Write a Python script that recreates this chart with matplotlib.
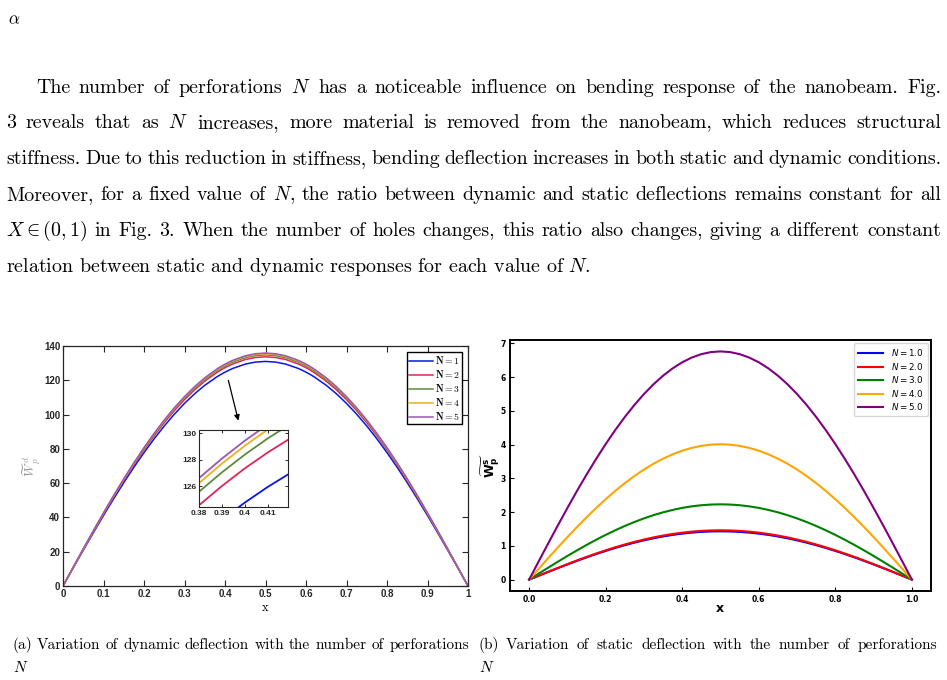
import numpy as np
import matplotlib
matplotlib.use('Agg')
from matplotlib import pyplot as plt
from matplotlib.font_manager import FontProperties

W, H = 947, 680

# ---- data ----
# (a) dynamic deflection, x grid is denser around the zoomed window
x_dyn = [0, 0.025, 0.05, 0.075, 0.10, 0.125, 0.15, 0.175, 0.20, 0.225, 0.25, 0.275, 0.30, 0.325, 0.35,
         0.38, 0.39, 0.40, 0.41, 0.42, 0.45, 0.475, 0.50, 0.525, 0.55, 0.58, 0.59, 0.60, 0.61, 0.62,
         0.65, 0.675, 0.70, 0.725, 0.75, 0.775, 0.80, 0.825, 0.85, 0.875, 0.90, 0.925, 0.95, 0.975, 1.0]
dyn_N1 = [0, 10.47, 20.86, 31.10, 41.12, 50.86, 60.26, 69.26, 77.80, 85.84, 93.34, 100.24, 106.52, 112.14, 117.06,
          122.03, 123.45, 124.75, 125.93, 126.99, 129.43, 130.61, 131.0, 130.61, 129.43, 126.99, 125.93, 124.75, 123.45, 122.03,
          117.06, 112.14, 106.52, 100.24, 93.34, 85.84, 77.80, 69.26, 60.26, 50.86, 41.12, 31.10, 20.86, 10.47, 0]
dyn_N2 = [0, 10.68, 21.29, 31.74, 41.97, 51.91, 61.50, 70.69, 79.41, 87.61, 95.26, 102.31, 108.71, 114.45, 119.48,
          124.55, 126.00, 127.33, 128.53, 129.61, 132.10, 133.30, 133.7, 133.30, 132.10, 129.61, 128.53, 127.33, 126.00, 124.55,
          119.48, 114.45, 108.71, 102.31, 95.26, 87.61, 79.41, 70.69, 61.50, 51.91, 41.97, 31.74, 21.29, 10.68, 0]
dyn_N3 = [0, 10.77, 21.46, 32.00, 42.32, 52.34, 62.01, 71.27, 80.06, 88.33, 96.05, 103.15, 109.61, 115.39, 120.46,
          125.57, 127.03, 128.37, 129.59, 130.68, 133.19, 134.40, 134.8, 134.40, 133.19, 130.68, 129.59, 128.37, 127.03, 125.57,
          120.46, 115.39, 109.61, 103.15, 96.05, 88.33, 80.06, 71.27, 62.01, 52.34, 42.32, 32.00, 21.46, 10.77, 0]
dyn_N4 = [0, 10.83, 21.57, 32.17, 42.54, 52.61, 62.33, 71.64, 80.48, 88.79, 96.54, 103.68, 110.18, 115.99, 121.09,
          126.22, 127.69, 129.04, 130.26, 131.36, 133.88, 135.09, 135.5, 135.09, 133.88, 131.36, 130.26, 129.04, 127.69, 126.22,
          121.09, 115.99, 110.18, 103.68, 96.54, 88.79, 80.48, 71.64, 62.33, 52.61, 42.54, 32.17, 21.57, 10.83, 0]
dyn_N5 = [0, 10.86, 21.64, 32.26, 42.66, 52.77, 62.52, 71.85, 80.71, 89.05, 96.83, 103.99, 110.50, 116.33, 121.44,
          126.60, 128.07, 129.42, 130.64, 131.74, 134.27, 135.49, 135.9, 135.49, 134.27, 131.74, 130.64, 129.42, 128.07, 126.60,
          121.44, 116.33, 110.50, 103.99, 96.83, 89.05, 80.71, 71.85, 62.52, 52.77, 42.66, 32.26, 21.64, 10.86, 0]
dyn_labels = ['N = 1', 'N = 2', 'N = 3', 'N = 4', 'N = 5']

# (b) static deflection
x_sta = [0, 0.025, 0.05, 0.075, 0.10, 0.125, 0.15, 0.175, 0.20, 0.225, 0.25, 0.275, 0.30, 0.325, 0.35, 0.375,
         0.40, 0.425, 0.45, 0.475, 0.50, 0.525, 0.55, 0.575, 0.60, 0.625, 0.65, 0.675, 0.70, 0.725, 0.75,
         0.775, 0.80, 0.825, 0.85, 0.875, 0.90, 0.925, 0.95, 0.975, 1.0]
sta_N1 = [0, 0.114, 0.228, 0.339, 0.449, 0.555, 0.658, 0.756, 0.849, 0.937, 1.019, 1.094, 1.163, 1.224, 1.278, 1.324,
          1.362, 1.392, 1.413, 1.426, 1.43, 1.426, 1.413, 1.392, 1.362, 1.324, 1.278, 1.224, 1.163, 1.094, 1.019,
          0.937, 0.849, 0.756, 0.658, 0.555, 0.449, 0.339, 0.228, 0.114, 0]
sta_N2 = [0, 0.117, 0.232, 0.347, 0.458, 0.567, 0.672, 0.772, 0.867, 0.957, 1.040, 1.117, 1.187, 1.250, 1.305, 1.352,
          1.390, 1.421, 1.443, 1.456, 1.46, 1.456, 1.443, 1.421, 1.390, 1.352, 1.305, 1.250, 1.187, 1.117, 1.040,
          0.957, 0.867, 0.772, 0.672, 0.567, 0.458, 0.347, 0.232, 0.117, 0]
sta_N3 = [0, 0.178, 0.355, 0.529, 0.700, 0.866, 1.026, 1.179, 1.324, 1.461, 1.589, 1.706, 1.813, 1.909, 1.993, 2.064,
          2.124, 2.170, 2.203, 2.223, 2.23, 2.223, 2.203, 2.170, 2.124, 2.064, 1.993, 1.909, 1.813, 1.706, 1.589,
          1.461, 1.324, 1.179, 1.026, 0.866, 0.700, 0.529, 0.355, 0.178, 0]
sta_N4 = [0, 0.320, 0.638, 0.952, 1.259, 1.557, 1.845, 2.120, 2.382, 2.628, 2.857, 3.068, 3.261, 3.433, 3.583, 3.712,
          3.819, 3.902, 3.962, 3.998, 4.01, 3.998, 3.962, 3.902, 3.819, 3.712, 3.583, 3.433, 3.261, 3.068, 2.857,
          2.628, 2.382, 2.120, 1.845, 1.557, 1.259, 0.952, 0.638, 0.320, 0]
sta_N5 = [0, 0.540, 1.076, 1.605, 2.122, 2.625, 3.110, 3.574, 4.015, 4.430, 4.817, 5.173, 5.497, 5.787, 6.041, 6.258,
          6.438, 6.578, 6.679, 6.740, 6.76, 6.740, 6.679, 6.578, 6.438, 6.258, 6.041, 5.787, 5.497, 5.173, 4.817,
          4.430, 4.015, 3.574, 3.110, 2.625, 2.122, 1.605, 1.076, 0.540, 0]
sta_labels = ['N = 1.0', 'N = 2.0', 'N = 3.0', 'N = 4.0', 'N = 5.0']

# page text
para_lines = [
    r'The number of perforations $N$ has a noticeable influence on bending response of the nanobeam. Fig.',
    r'3 reveals that as $N$ increases, more material is removed from the nanobeam, which reduces structural',
    r'stiffness. Due to this reduction in stiffness, bending deflection increases in both static and dynamic conditions.',
    r'Moreover, for a fixed value of $N$, the ratio between dynamic and static deflections remains constant for all',
    r'$X\in(0,1)$ in Fig. 3. When the number of holes changes, this ratio also changes, giving a different constant',
    r'relation between static and dynamic responses for each value of $N$.',
]
cap_a = r'(a) Variation of dynamic deflection with the number of perforations'
cap_b = r'(b) Variation of static deflection with the number of perforations'

plt.rcParams['axes.unicode_minus'] = False
fig = plt.figure(figsize=(W / 100, H / 100), dpi=100)
renderer = fig.canvas.get_renderer()


def px_rect(x0, y0, x1, y1):
    # pixel box (top-left origin) -> figure fraction rect
    return [x0 / W, 1 - y1 / H, (x1 - x0) / W, (y1 - y0) / H]


def page_text(x, y, s, fs, **kw):
    return fig.text(x / W, 1 - y / H, s, fontsize=fs, family='cmr10',
                    math_fontfamily='cm', va='baseline', **kw)


def justify(line, x0, x1, y, fs):
    words = line.split(' ')
    objs = [page_text(0, y, w, fs) for w in words]
    widths = [o.get_window_extent(renderer).width for o in objs]
    gap = (x1 - x0 - sum(widths)) / (len(words) - 1)
    x = x0
    for o, w in zip(objs, widths):
        o.set_x(x / W)
        x += w + gap


# body font size picked so the (unjustified) last line has the right width
probe = page_text(0, 0, para_lines[-1], 10)
fs_body = 10 * 586 / probe.get_window_extent(renderer).width
probe.remove()

page_text(8, 24, r'$\alpha$', fs_body * 0.85)
baselines = [93, 128, 164, 200, 236, 272]
for k, line in enumerate(para_lines[:-1]):
    justify(line, 36 if k == 0 else 6, 941, baselines[k], fs_body)
page_text(6, baselines[-1], para_lines[-1], fs_body)

probe = page_text(0, 0, cap_a, 10)
fs_cap = 10 * 456 / probe.get_window_extent(renderer).width
probe.remove()
justify(cap_a, 12, 469, 649, fs_cap)
justify(cap_b, 478, 937, 649, fs_cap)
page_text(13, 672, r'$N$', fs_cap)
page_text(479, 672, r'$N$', fs_cap)

# ---- (a) dynamic deflection, MATLAB look ----
dyn_colors = ['#0a16e6', '#e0245a', '#5f8a3c', '#ebb11f', '#9b55b5']
dyn_series = [dyn_N1, dyn_N2, dyn_N3, dyn_N4, dyn_N5]
tick_font = FontProperties(family='Liberation Sans', weight='bold', size=7)

ax1 = fig.add_axes(px_rect(63, 346, 468, 586))
for ys, c, lab in zip(dyn_series, dyn_colors, dyn_labels):
    ax1.plot(x_dyn, ys, color=c, lw=1.1, label=r'$\mathbf{' + lab + '}$')
ax1.set_xlim(0, 1)
ax1.set_ylim(0, 140)
ax1.set_xticks(np.arange(0, 1.01, 0.1))
ax1.set_xticklabels(['0', '0.1', '0.2', '0.3', '0.4', '0.5', '0.6', '0.7', '0.8', '0.9', '1'])
ax1.set_yticks(np.arange(0, 141, 20))
ax1.tick_params(direction='in', length=4, width=0.8, top=True, right=True,
                colors='#262626', pad=2)
for lbl in ax1.get_xticklabels() + ax1.get_yticklabels():
    lbl.set_fontproperties(tick_font)
for sp in ax1.spines.values():
    sp.set_linewidth(0.9)
    sp.set_color('#262626')
leg = ax1.legend(loc='upper right', fancybox=False, edgecolor='black', framealpha=1,
                 prop=FontProperties(size=7, math_fontfamily='cm'), handlelength=2.4,
                 handletextpad=0.2, labelspacing=0.2, borderpad=0.25, borderaxespad=0.6)
leg.get_frame().set_linewidth(1.0)
ax1.annotate('', xy=(0.4346, 94.9), xytext=(0.4067, 121.5),
             arrowprops=dict(arrowstyle='-|>', color='black', lw=0.9, mutation_scale=8))
fig.text(265 / W, 1 - 608 / H, 'x', family='cmr10', fontsize=9, ha='center', va='center')
fig.text(31 / W, 1 - 466 / H, r'$\widetilde{W}_p^{\,d}$', math_fontfamily='cm', fontsize=9.5,
         color='#9a9a9a', rotation=90, ha='center', va='center')

# zoomed window
axi = fig.add_axes(px_rect(199, 430, 288, 507))
for ys, c in zip(dyn_series, dyn_colors):
    axi.plot(x_dyn, ys, color=c, lw=1.3)
axi.set_xlim(0.38, 0.4189)
axi.set_ylim(124.42, 130.23)
axi.set_xticks([0.38, 0.39, 0.40, 0.41])
axi.set_xticklabels(['0.38', '0.39', '0.4', '0.41'])
axi.set_yticks([126, 128, 130])
axi.tick_params(direction='in', length=2.5, width=0.7, top=True, right=True,
                colors='#262626', pad=2)
for lbl in axi.get_xticklabels() + axi.get_yticklabels():
    lbl.set_fontproperties(FontProperties(family='Liberation Sans', weight='bold', size=6))
for sp in axi.spines.values():
    sp.set_linewidth(0.8)
    sp.set_color('#262626')

# ---- (b) static deflection ----
sta_colors = ['blue', 'red', 'green', 'orange', 'purple']
sta_series = [sta_N1, sta_N2, sta_N3, sta_N4, sta_N5]
ax2 = fig.add_axes(px_rect(510, 340, 931, 591))
for ys, c, lab in zip(sta_series, sta_colors, sta_labels):
    ax2.plot(x_sta, ys, color=c, lw=1.5, label='$' + lab + '$')
ax2.set_xticks([0.0, 0.2, 0.4, 0.6, 0.8, 1.0])
ax2.set_yticks(range(0, 8))
ax2.tick_params(direction='in', length=3, width=0.8, labelsize=5.5, pad=3)
for lbl in ax2.get_xticklabels() + ax2.get_yticklabels():
    lbl.set_fontweight('bold')
for sp in ax2.spines.values():
    sp.set_linewidth(1.4)
ax2.legend(loc='upper right', fontsize=6.3, handlelength=2.9, handletextpad=0.9,
           labelspacing=0.3, borderpad=0.45, borderaxespad=0.35)
fig.text(720 / W, 1 - 609 / H, 'x', fontsize=9, fontweight='bold', ha='center', va='center')
fig.text(491 / W, 1 - 466 / H, r'$\widetilde{\mathbf{W}_\mathbf{p}^\mathbf{s}}$', fontsize=9,
         rotation=90, ha='center', va='center')

fig.savefig('out.png', dpi=100)
